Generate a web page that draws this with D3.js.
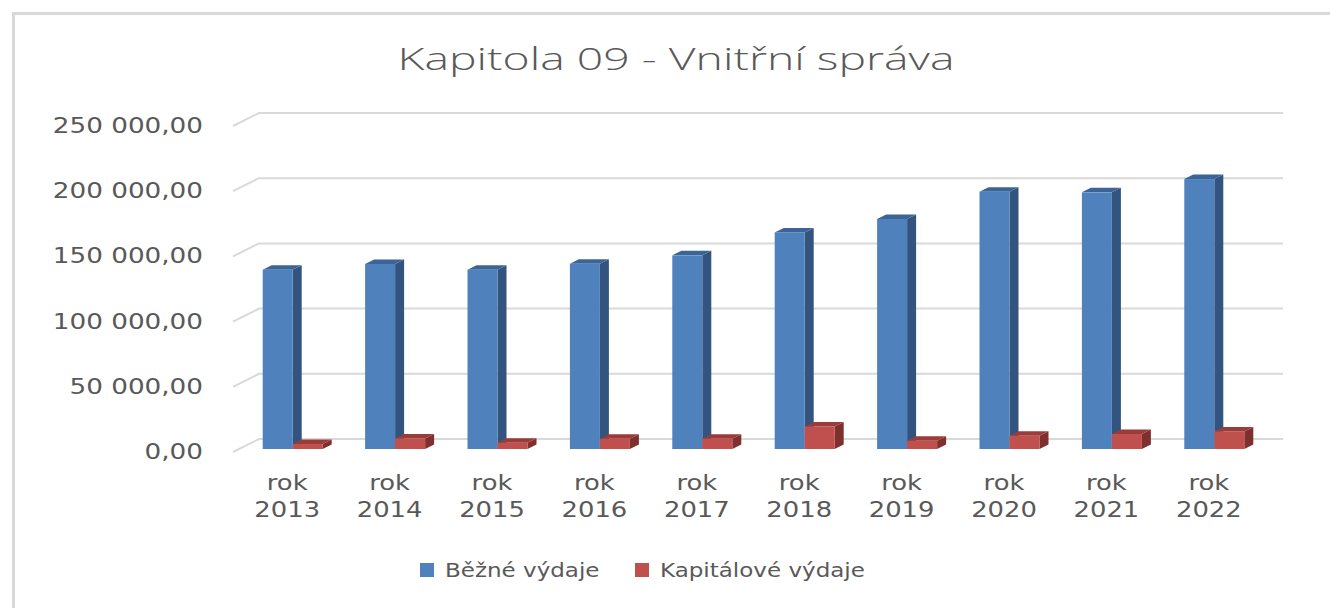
<!DOCTYPE html>
<html>
<head>
<meta charset="utf-8">
<script src="https://cdn.jsdelivr.net/npm/d3@7"></script>
<style>
  body { margin: 0; background: #fff; }
  text { font-family: "DejaVu Sans", Verdana, sans-serif; fill: #595959; }
</style>
</head>
<body>
<script>
// data
let years = ['2013', '2014', '2015', '2016', '2017', '2018', '2019', '2020', '2021', '2022'];
let bezne = [137500, 141900, 137500, 142000, 148500, 166100, 176400, 197300, 196800, 207000];
let kapitalove = [3800, 8100, 4800, 7900, 7900, 17300, 6400, 10200, 11500, 13500];
let seriesNames = ['Běžné výdaje', 'Kapitálové výdaje'];
let yTicks = [0, 50000, 100000, 150000, 200000, 250000];

let width = 1330, height = 608;
let depth = {dx: 26, dy: -13};      // depth of the whole floor
let barDepth = {dx: 9, dy: -4.5};   // depth of a column
let barShift = {dx: 6, dy: -3};     // column front sits a bit behind front edge

let colors = [
  {front: '#4f81bd', side: '#32547e', top: '#3b6497'},
  {front: '#c0504d', side: '#7f2f2d', top: '#9a3c3a'}
];

let locale = d3.formatLocale({decimal: ',', thousands: ' ', grouping: [3], currency: ['', '']});
let fmt = locale.format(',.2f');

let svg = d3.select('body').append('svg')
    .attr('width', width)
    .attr('height', height);

// chart area border
svg.append('rect')
    .attr('x', 13.5).attr('y', 13.5)
    .attr('width', 1400).attr('height', 700)
    .attr('fill', 'none')
    .attr('stroke', '#d9d9d9')
    .attr('stroke-width', 3);

// title
svg.append('text')
    .attr('x', 676).attr('y', 70)
    .attr('text-anchor', 'middle')
    .attr('font-size', 31)
    .attr('textLength', 557)
    .attr('lengthAdjust', 'spacingAndGlyphs')
    .style('font-family', '"Open Sans", sans-serif')
    .style('font-weight', 300)
    .text('Kapitola 09 - Vnitřní správa');

// front plane scales
let y = d3.scaleLinear().domain([0, 250000]).range([452, 126]);
let x = d3.scaleBand().domain(years).range([236, 1260]);
let x1 = d3.scaleBand().domain(seriesNames).range([x.bandwidth() / 2 - 30.5, x.bandwidth() / 2 + 29.5]);

let xFront = 233, xBack = xFront + depth.dx, xEnd = 1283;

// gridlines on floor edge + back wall
svg.append('g').selectAll('path')
    .data(yTicks)
  .enter().append('path')
    .attr('fill', 'none')
    .attr('stroke', '#d9d9d9')
    .attr('stroke-width', 2)
    .attr('d', function(d){
      return 'M' + xFront + ',' + y(d) + 'L' + xBack + ',' + (y(d) + depth.dy) + 'L' + xEnd + ',' + (y(d) + depth.dy);
    });

// y axis labels
let yAxis = d3.axisLeft(y).tickValues(yTicks).tickFormat(fmt).tickSize(0).tickPadding(0);
let yg = svg.append('g')
    .attr('transform', 'translate(203,0)')
    .call(yAxis);
yg.select('.domain').remove();
yg.selectAll('text')
    .attr('font-size', 20.5)
    .attr('fill', '#595959')
    .style('font-family', '"DejaVu Sans", sans-serif')
    .attr('data-k', 1.28)
    .attr('class', 'wide');

// columns
let data = years.map(function(yr, i){
  return {year: yr, values: [bezne[i], kapitalove[i]]};
});

function bar(g, xl, w, v, c) {
  let x0 = xl + barShift.dx;
  let yb = y(0) + barShift.dy;
  let yt = y(v) + barShift.dy;
  let dx = barDepth.dx, dy = barDepth.dy;
  // side
  g.append('path').attr('fill', c.side)
      .attr('d', 'M' + (x0 + w) + ',' + yb + 'L' + (x0 + w + dx) + ',' + (yb + dy) +
        'L' + (x0 + w + dx) + ',' + (yt + dy) + 'L' + (x0 + w) + ',' + yt + 'Z');
  // top
  g.append('path').attr('fill', c.top)
      .attr('d', 'M' + x0 + ',' + yt + 'L' + (x0 + dx) + ',' + (yt + dy) +
        'L' + (x0 + w + dx) + ',' + (yt + dy) + 'L' + (x0 + w) + ',' + yt + 'Z');
  // front
  g.append('rect').attr('fill', c.front)
      .attr('x', x0).attr('y', yt)
      .attr('width', w).attr('height', yb - yt);
}

let groups = svg.append('g').selectAll('g')
    .data(data)
  .enter().append('g')
    .attr('transform', function(d){ return 'translate(' + x(d.year) + ',0)'; });

groups.each(function(d){
  let g = d3.select(this);
  d.values.forEach(function(v, i){
    bar(g, x1(seriesNames[i]), x1.bandwidth(), v, colors[i]);
  });
});

// category labels
let cats = svg.append('g').selectAll('g')
    .data(years)
  .enter().append('g')
    .attr('transform', function(d){ return 'translate(' + (x(d) + x.bandwidth() / 2) + ',0)'; });
cats.append('text')
    .attr('y', 490)
    .attr('text-anchor', 'middle')
    .attr('font-size', 20.5)
    .attr('data-k', 1.26)
    .attr('class', 'wide')
    .text('rok');
cats.append('text')
    .attr('y', 517)
    .attr('text-anchor', 'middle')
    .attr('font-size', 20.5)
    .attr('data-k', 1.26)
    .attr('class', 'wide')
    .text(function(d){ return d; });

// legend
let legendX = [420, 635];
let legend = svg.append('g').selectAll('g')
    .data(seriesNames)
  .enter().append('g')
    .attr('transform', function(d, i){ return 'translate(' + legendX[i] + ',0)'; });
legend.append('rect')
    .attr('y', 563)
    .attr('width', 14).attr('height', 14)
    .attr('fill', function(d, i){ return colors[i].front; });
legend.append('text')
    .attr('x', 25).attr('y', 577)
    .attr('font-size', 20)
    .attr('data-k', 1.15)
    .attr('class', 'wide')
    .text(function(d){ return d; });

// widen text to the original proportions
svg.selectAll('text.wide').each(function(){
  let len = this.getComputedTextLength();
  let k = +this.getAttribute('data-k');
  d3.select(this)
      .attr('textLength', len * k)
      .attr('lengthAdjust', 'spacingAndGlyphs');
});
</script>
</body>
</html>
